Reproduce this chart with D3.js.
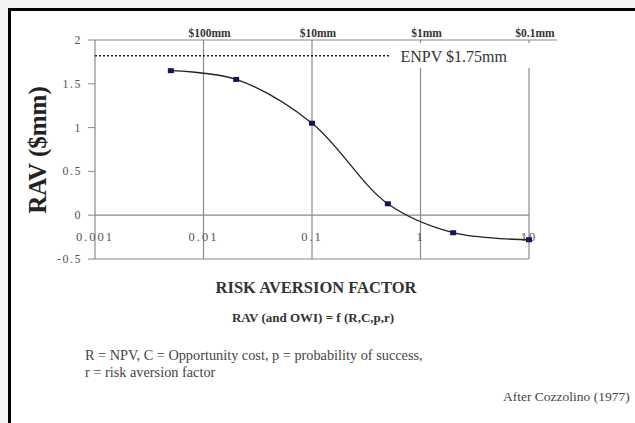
<!DOCTYPE html>
<html>
<head>
<meta charset="utf-8">
<script src="https://cdn.jsdelivr.net/npm/d3@7"></script>
<style>
  body { margin: 0; background: #f3f3f3; }
  svg { display: block; font-family: 'Liberation Serif', 'Times New Roman', serif; }
</style>
</head>
<body>
<div class="vis-rav"></div>
<script>
// values
const riskFactor = [0.005, 0.02, 0.1, 0.5, 2, 10];
const ravValues = [1.65, 1.55, 1.05, 0.13, -0.2, -0.28];
const yTicks = [-0.5, 0, 0.5, 1, 1.5, 2];
const yTickLabels = ['-0.5', '0', '0.5', '1', '1.5', '2'];
const xTicks = [0.001, 0.01, 0.1, 1, 10];
const xTickLabels = ['0.001', '0.01', '0.1', '1', '10'];
const topTicks = [0.01, 0.1, 1, 10];
const topLabels = ['$100mm', '$10mm', '$1mm', '$0.1mm'];
const enpvLevel = 1.82;
const enpvLabel = 'ENPV $1.75mm';

const draw = (outerWidth, outerHeight) => {
    const margin = {top: 40, right: 106, bottom: 164, left: 95};

    let svg = d3.select('.vis-rav')
        .append('svg')
        .attr('width', outerWidth)
        .attr('height', outerHeight);

    // panel with the heavy frame
    svg.append('rect')
        .attr('x', 9.5).attr('y', 9.5)
        .attr('width', outerWidth + 20).attr('height', outerHeight + 20)
        .attr('fill', '#fff')
        .attr('stroke', '#000')
        .attr('stroke-width', 3);

    let x = d3.scaleLog()
        .domain([0.001, 10])
        .range([margin.left, outerWidth - margin.right]);

    let y = d3.scaleLinear()
        .domain([-0.5, 2])
        .range([outerHeight - margin.bottom, margin.top]);

    const grid = '#8a8a8a';

    // vertical grid lines
    svg.append('g')
        .selectAll('line')
        .data(xTicks)
        .enter().append('line')
        .attr('x1', d => x(d)).attr('x2', d => x(d))
        .attr('y1', y(2)).attr('y2', y(-0.5))
        .attr('stroke', grid)
        .attr('stroke-width', 1.2);

    // frame lines: top, bottom, zero
    svg.append('line')
        .attr('x1', x(0.001)).attr('x2', x(10) + 28)
        .attr('y1', y(2)).attr('y2', y(2))
        .attr('stroke', grid).attr('stroke-width', 1.2);
    [0, -0.5].forEach(v => {
        svg.append('line')
            .attr('x1', x(0.001)).attr('x2', x(10))
            .attr('y1', y(v)).attr('y2', y(v))
            .attr('stroke', grid).attr('stroke-width', 1.2);
    });

    // y ticks and labels
    let yAxis = svg.append('g');
    yAxis.selectAll('line')
        .data(yTicks)
        .enter().append('line')
        .attr('x1', x(0.001) - 7).attr('x2', x(0.001))
        .attr('y1', d => y(d)).attr('y2', d => y(d))
        .attr('stroke', grid);
    yAxis.selectAll('text')
        .data(yTicks)
        .enter().append('text')
        .attr('x', x(0.001) - 13)
        .attr('y', d => y(d) + 4)
        .attr('text-anchor', 'end')
        .attr('fill', '#555')
        .style('font-size', '12px')
        .style('letter-spacing', '1.5px')
        .text((d, i) => yTickLabels[i]);

    // x tick labels sit just below the zero line
    svg.append('g')
        .selectAll('text')
        .data(xTicks)
        .enter().append('text')
        .attr('x', d => x(d))
        .attr('y', y(0) + 26)
        .attr('text-anchor', 'middle')
        .attr('fill', '#555')
        .style('font-size', '12.5px')
        .style('letter-spacing', '2px')
        .text((d, i) => xTickLabels[i]);

    // top labels
    svg.append('g')
        .selectAll('text')
        .data(topTicks)
        .enter().append('text')
        .attr('x', d => x(d) + 6)
        .attr('y', y(2) - 3)
        .attr('text-anchor', 'middle')
        .attr('fill', '#333')
        .style('font-size', '11.5px')
        .style('font-weight', 'bold')
        .text((d, i) => topLabels[i]);

    // ENPV reference line and its label
    svg.append('rect')
        .attr('x', x(1) - 26).attr('y', y(2) + 3)
        .attr('width', 170).attr('height', 25)
        .attr('fill', '#fff');
    svg.append('line')
        .attr('x1', x(0.001)).attr('x2', x(1) - 30)
        .attr('y1', y(enpvLevel)).attr('y2', y(enpvLevel))
        .attr('stroke', '#222')
        .attr('stroke-width', 1.3)
        .attr('stroke-dasharray', '2,2');
    svg.append('text')
        .attr('x', x(1) - 20)
        .attr('y', y(enpvLevel) + 6)
        .attr('fill', '#333')
        .style('font-size', '16px')
        .text(enpvLabel);

    // curve
    let line = d3.line()
        .x(d => x(d[0]))
        .y(d => y(d[1]))
        .curve(d3.curveCatmullRom.alpha(0.5));

    const points = riskFactor.map((r, i) => [r, ravValues[i]]);

    svg.append('path')
        .datum(points)
        .attr('d', line)
        .attr('fill', 'none')
        .attr('stroke', '#222')
        .attr('stroke-width', 1.3);

    svg.append('g')
        .selectAll('rect')
        .data(points)
        .enter().append('rect')
        .attr('x', d => x(d[0]) - 3)
        .attr('y', d => y(d[1]) - 2.5)
        .attr('width', 6)
        .attr('height', 5)
        .attr('fill', '#14145a');

    // titles
    svg.append('text')
        .attr('transform', 'translate(46,' + 150 + ') rotate(-90)')
        .attr('text-anchor', 'middle')
        .attr('fill', '#222')
        .style('font-size', '25px')
        .style('font-weight', 'bold')
        .text('RAV ($mm)');

    svg.append('text')
        .attr('x', 316).attr('y', 293)
        .attr('text-anchor', 'middle')
        .attr('fill', '#333')
        .style('font-size', '16.5px')
        .style('font-weight', 'bold')
        .text('RISK AVERSION FACTOR');

    svg.append('text')
        .attr('x', 313).attr('y', 322)
        .attr('text-anchor', 'middle')
        .attr('fill', '#333')
        .style('font-size', '13px')
        .style('font-weight', 'bold')
        .text('RAV (and OWI) = f (R,C,p,r)');

    svg.append('text')
        .attr('x', 85).attr('y', 360)
        .attr('fill', '#444')
        .style('font-size', '14.3px')
        .text('R = NPV, C = Opportunity cost, p = probability of success,');

    svg.append('text')
        .attr('x', 85).attr('y', 377)
        .attr('fill', '#444')
        .style('font-size', '14.3px')
        .text('r = risk aversion factor');

    svg.append('text')
        .attr('x', 503).attr('y', 401)
        .attr('fill', '#444')
        .style('font-size', '13.5px')
        .text('After Cozzolino (1977)');
};

draw(635, 423);
</script>
</body>
</html>
